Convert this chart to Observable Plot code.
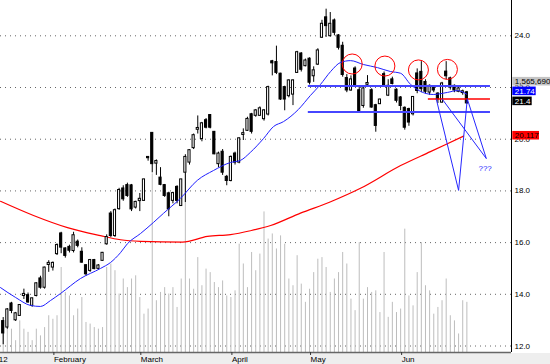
<!DOCTYPE html>
<html><head><meta charset="utf-8">
<script src="https://cdn.jsdelivr.net/npm/d3@7"></script>
<script src="https://cdn.jsdelivr.net/npm/@observablehq/plot@0.6"></script>
<style>
html,body{margin:0;padding:0;background:#fff;}
#chart svg{display:block;}
</style></head><body><div id="chart"></div>
<script>
// ---- daily candles (index 0 = first visible session) ----
const opens  = [12.95,12.73,13.63,13.01,13.18,13.95,13.95,13.57,13.95,14.6,14.27,15.15,15.05,15.57,16.34,15.76,15.82,15.69,16.02,15.63,15.11,14.92,15.31,15.0,15.31,15.95,17.11,16.27,17.31,18.08,18.21,18.2,17.37,17.62,17.63,19.3,20.23,19.07,18.5,18.21,17.89,17.63,18.14,17.43,18.72,19.11,19.67,20.38,20.02,20.72,20.92,20.27,19.05,19.5,18.53,18.4,19.43,19.11,20.18,20.34,20.95,20.92,20.92,20.79,20.97,23.0,22.97,22.52,22.0,21.68,21.74,22.58,23.3,22.84,23.1,22.45,22.9,23.94,24.7,24.0,24.58,24.0,23.6,22.35,21.9,22.72,21.88,21.3,22.12,21.88,21.3,21.37,22.5,21.7,22.3,21.9,21.6,21.2,21.15,20.98,22.53,22.59,22.2,21.82,22.0,21.75,21.43,22.6,22.34,22.05,21.85,21.8,21.8];
const highs  = [13.1,13.45,13.69,13.3,13.6,14.2,14.05,13.85,14.45,14.7,15.05,15.3,15.25,15.95,16.4,15.8,15.9,16.4,16.1,15.8,15.15,15.35,15.35,15.15,15.62,16.3,17.2,17.3,18.1,18.2,18.3,18.25,17.6,17.9,18.45,19.32,20.25,19.2,18.9,18.25,17.95,17.95,18.2,18.45,19.4,19.6,20.2,20.9,20.65,20.8,20.95,20.3,19.5,19.6,18.6,19.35,19.5,20.05,20.4,20.85,21.0,21.15,21.25,21.15,22.05,23.05,23.6,22.55,22.05,22.3,22.3,23.4,23.35,23.1,23.15,22.8,23.5,24.6,25.03,24.9,24.65,24.05,23.75,22.5,22.45,22.8,22.0,22.0,22.46,21.95,21.35,21.55,22.6,22.3,22.4,21.95,21.65,21.25,21.2,21.65,22.72,23.0,22.3,22.1,22.05,21.8,22.2,23.0,22.4,22.1,22.0,21.9,21.85];
const lows   = [12.05,12.65,13.25,12.95,13.15,13.8,13.65,13.5,13.9,14.2,14.2,14.85,14.9,15.5,15.57,15.4,15.6,15.6,15.8,15.2,14.7,14.85,14.95,14.95,15.28,15.9,16.2,16.2,17.25,17.6,17.75,17.2,17.3,17.2,17.6,19.15,18.7,18.6,18.2,17.75,17.0,17.5,17.5,17.4,17.55,19.0,19.6,20.2,19.9,20.4,20.4,19.4,18.9,18.6,18.2,18.35,19.0,19.05,19.95,20.3,20.2,20.85,20.9,20.7,20.9,22.45,22.5,21.5,21.1,21.6,21.3,22.55,22.6,22.8,22.1,22.2,22.85,23.9,23.94,23.95,24.0,23.45,22.4,21.8,21.85,22.0,21.0,21.2,22.0,21.2,20.27,21.35,22.0,21.65,22.1,21.4,21.1,20.35,20.5,20.9,21.76,21.8,21.75,21.7,21.8,21.38,21.4,22.3,21.9,21.8,21.8,21.7,21.35];
const closes = [12.5,13.4,13.37,13.25,13.57,14.0,13.7,13.83,14.41,14.27,15.02,15.2,15.2,15.89,15.82,15.5,15.7,16.27,15.89,15.24,14.79,15.31,14.99,15.1,15.59,16.2,16.27,17.24,18.02,17.69,17.82,17.3,17.56,17.68,18.43,19.28,19.05,19.14,18.25,17.82,17.3,17.9,17.63,18.43,19.3,19.56,20.14,20.42,20.6,20.46,20.46,19.43,19.43,18.72,18.4,19.3,19.11,20.02,20.22,20.77,20.3,21.1,21.18,21.1,22.0,22.95,22.58,21.55,21.55,22.26,22.26,23.35,22.7,23.03,22.2,22.65,23.42,24.45,24.39,24.45,24.13,23.55,22.5,21.9,22.3,22.08,21.04,21.95,22.16,21.24,20.53,21.52,22.1,22.05,22.15,21.5,21.3,20.46,20.66,21.62,21.88,21.95,21.85,22.05,21.9,21.56,22.14,22.45,22.01,21.9,21.95,21.84,21.4];
// volume, millions of shares
const volumes = [0.68,0.99,0.73,0.37,0.99,0.73,0.63,0.37,0.73,0.52,0.78,1.15,1.04,1.15,2.66,1.88,1.77,1.15,1.36,1.72,0.94,0.89,0.78,0.73,0.78,2.66,2.77,2.56,1.83,2.30,2.03,2.30,2.40,1.72,1.20,1.36,5.59,1.62,1.88,2.03,1.83,2.03,1.41,2.30,6.10,2.30,1.98,2.97,2.09,2.61,2.50,2.19,2.03,2.24,1.77,1.72,1.93,3.39,2.77,2.03,3.13,2.56,3.08,4.40,3.55,3.71,3.24,3.65,3.39,2.30,2.09,3.03,2.14,1.57,1.98,2.50,2.92,2.97,2.66,1.88,2.30,2.50,3.13,2.77,1.67,1.31,3.44,1.67,2.03,1.88,1.93,1.25,3.13,1.10,1.57,1.25,1.36,3.86,1.77,1.46,2.50,3.44,2.09,1.93,1.20,1.41,1.62,2.30,1.15,0.99,0.58,1.62,1.57];

// moving averages (session index, value)
const blueMaIdx = [-0.65,2.97,6.59,9.0,11.43,13.84,18.67,23.5,25.92,28.33,30.02,33.16,36.3,38.7,42.8,46.9,50.8,54.9,57.3,59.7,62.9,65.3,67.7,71.3,74.2,76.6,79.1,81.5,83.9,87.0,90.4,93.5,96.0,98.4,100.8,103.9,107.3,109.7,112];
const blueMaVal = [14.26,13.88,13.57,13.53,13.76,14.03,14.61,15.0,15.23,15.61,15.96,16.35,16.78,17.13,17.71,18.41,18.79,19.10,19.18,19.49,20.03,20.49,20.68,21.15,21.69,22.11,22.62,22.97,23.04,22.89,22.77,22.62,22.55,22.12,21.85,21.73,21.81,21.88,21.74];
const redMaIdx  = [-0.65,7.32,15.53,23.5,28.33,33.16,43.3,49.35,54.9,59.7,64.6,71.8,79.1,86.3,96.0,103.2,111.2];
const redMaVal  = [17.60,17.05,16.58,16.27,16.11,16.05,16.02,16.24,16.31,16.46,16.66,17.14,17.58,18.10,18.98,19.52,20.12];

// hand-drawn annotations
const levelValues = [22.06, 21.05, 21.56];
const levelStart  = [73.7, 73.7, 102.7];
const levelEnd    = [117.7, 117.7, 117.7];
const levelColors = ["#4646ff", "#4646ff", "#ff0000"];
const circleIdx = [84.3, 92.2, 100.3, 107.3];
const circleVal = [22.91, 22.83, 22.68, 22.70];
const projFromIdx = [104.6, 110.0, 106.0, 112.1];
const projFromVal = [21.56, 18.02, 21.56, 21.56];
const projToIdx   = [110.0, 112.1, 116.7, 116.7];
const projToVal   = [18.02, 21.56, 19.25, 19.25];
const noteText = "???";
const noteIdx = 114.8, noteVal = 18.87;

// axes
const yTicks = [12, 14, 16, 18, 20, 22, 24];
const monthTicks  = [-1.3, 12, 33, 55, 74, 96];
const monthLabels = ["12", "February", "March", "April", "May", "Jun"];

// last-value tags on the right
const tagText  = ["1,565,690", "21.74", "21.4", "20.117"];
const tagFill  = ["#c4c4c4", "#0000ff", "#000000", "#ff0000"];
const tagInk   = ["#000000", "#ffffff", "#ffffff", "#000000"];

// ---- layout ----
const X0 = -0.652, X1 = 122.78, Y0 = 11.749, Y1 = 25.366;
const VOL_K = 1.236;                         // price units per million shares
const px2idx = px => (px - 2.7) / 4.14;      // pixel -> session index (layout helper)
const tagY   = [22.225, 21.851, 21.464, 20.135];
const tagRight = [552, 535.7, 531.7, 539];
const tagHalf = 0.166;

const candles = opens.map((o, i) => ({i, o, h: highs[i], l: lows[i], c: closes[i], v: volumes[i]}));
const blueMa = blueMaIdx.map((x, k) => ({x, y: blueMaVal[k]}));
const redMa  = redMaIdx.map((x, k) => ({x, y: redMaVal[k]}));
const levels = levelValues.map((y, k) => ({y, x1: levelStart[k], x2: levelEnd[k], color: levelColors[k]}));
const circles = circleIdx.map((x, k) => ({x, y: circleVal[k]}));
const proj = projFromIdx.map((x1, k) => ({x1, y1: projFromVal[k], x2: projToIdx[k], y2: projToVal[k]}));
const tags = tagText.map((t, k) => ({t, fill: tagFill[k], ink: tagInk[k], y: tagY[k], x2: px2idx(tagRight[k])}));

const plot = Plot.plot({
  width: 550, height: 364,
  marginLeft: 0, marginRight: 39, marginTop: 0, marginBottom: 12,
  style: {fontFamily: "'Liberation Sans', Arial, sans-serif", fontSize: "8px",
          background: "linear-gradient(to bottom, #ffffff 353px, #eeeeee 353px)", overflow: "hidden"},
  x: {domain: [X0, X1], axis: null},
  y: {domain: [Y0, Y1], axis: null},
  marks: [
    Plot.gridY(yTicks, {stroke: "#666", strokeOpacity: 1, strokeDasharray: "1,4"}),
    Plot.ruleX(candles, {x: "i", y1: () => Y0, y2: d => Y0 + d.v * VOL_K, stroke: "#bdbdbd", strokeWidth: 1}),
    Plot.line(redMa, {x: "x", y: "y", stroke: "#ff0000", strokeWidth: 1.2, curve: "monotone-x"}),
    Plot.ruleX(candles, {x: "i", y1: "l", y2: "h", stroke: "#000", strokeWidth: 1}),
    Plot.rect(candles, {
      x1: d => d.i - 0.5, x2: d => d.i + 0.5,
      y1: d => Math.min(d.o, d.c) - 0.015, y2: d => Math.max(d.o, d.c) + 0.015,
      insetLeft: 1, insetRight: 1,
      fill: d => d.c >= d.o ? "#ffffff" : "#000000", stroke: "#000", strokeWidth: 1
    }),
    Plot.line(blueMa, {x: "x", y: "y", stroke: "#1f1fff", strokeWidth: 1, curve: "monotone-x"}),
    Plot.ruleY(levels, {y: "y", x1: "x1", x2: "x2", stroke: "color", strokeWidth: d => d.color === "#ff0000" ? 1.5 : 2}),
    Plot.dot(circles, {x: "x", y: "y", r: 10, stroke: "#ff0000", fill: "none", strokeWidth: 1}),
    Plot.link(proj, {x1: "x1", y1: "y1", x2: "x2", y2: "y2", stroke: "#2626ff", strokeWidth: 1}),
    Plot.text([noteText], {x: () => noteIdx, y: () => noteVal, text: d => d, fill: "#2626ff", fontSize: 8, textAnchor: "start"}),
    Plot.ruleY([Y0], {stroke: "#666", strokeWidth: 1.5}),
    Plot.ruleX([X1], {stroke: "#000", strokeWidth: 1}),
    Plot.axisY({anchor: "right", ticks: yTicks, tickFormat: d => d.toFixed(1), tickSize: 0, tickPadding: 3, fontSize: 8, fill: "#000"}),
    Plot.axisX({ticks: monthTicks, tickFormat: d => monthLabels[monthTicks.indexOf(d)], tickSize: 3, tickPadding: 1,
                textAnchor: "start", dx: 1, fontSize: 8, fill: "#000", stroke: "#333"}),
    Plot.rect(tags, {x1: () => px2idx(512.3), x2: "x2", y1: d => d.y - tagHalf, y2: d => d.y + tagHalf, fill: "fill"}),
    Plot.text(tags, {x: () => px2idx(512.3), y: "y", text: "t", fill: "ink", dx: 2, textAnchor: "start", fontSize: 8})
  ]
});
document.getElementById("chart").appendChild(plot);
</script></body></html>
